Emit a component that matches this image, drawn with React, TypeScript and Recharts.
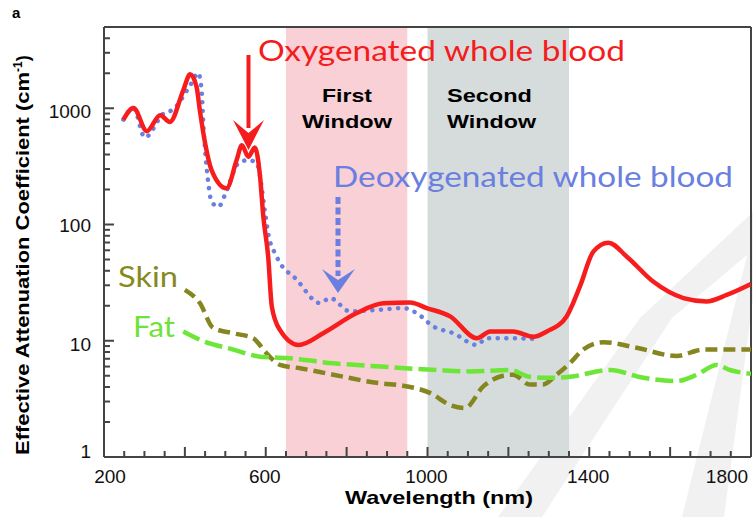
import React from "react";
import { LineChart, Line, XAxis, YAxis, ReferenceArea, ReferenceLine } from "recharts";

// wavelength (nm) / effective attenuation coefficient (cm^-1)
const oxyNm = [248, 273, 306, 339, 363, 396, 413, 429, 437, 450, 466, 503, 528, 541, 557, 573, 586, 594, 606, 615, 635, 681, 742, 825, 891, 957, 998, 1056, 1122, 1155, 1212, 1262, 1295, 1344, 1377, 1410, 1447, 1493, 1558, 1633, 1690, 1740, 1800];
const oxyVal = [800, 1006, 635, 871, 763, 1428, 1959, 1524, 961, 501, 294, 205, 358, 481, 382, 460, 257, 117, 53, 19.7, 12.4, 9.2, 11.6, 17.3, 21, 21.3, 19.1, 16.2, 10.5, 12.0, 12.0, 10.8, 12.0, 16.2, 29.3, 58.4, 69.8, 52.9, 32.3, 23.3, 21.8, 24.8, 30.8];

const deoxyNm = [248, 273, 301, 347, 371, 413, 433, 442, 446, 450, 458, 466, 483, 499, 532, 557, 578, 598, 606, 627, 677, 734, 759, 808, 883, 940, 973, 1014, 1064, 1122, 1146, 1221, 1278];
const deoxyVal = [800, 1000, 560, 901, 975, 1575, 2010, 1337, 691, 436, 226, 157, 142, 179, 335, 358, 335, 129, 84, 53, 33.4, 21.1, 23.3, 17.9, 18.5, 19.1, 17.3, 13.3, 11.6, 9.2, 10.5, 10.5, 10.3];

const skinNm = [400, 437, 470, 520, 569, 602, 635, 685, 767, 883, 940, 1006, 1056, 1093, 1138, 1187, 1212, 1253, 1286, 1319, 1352, 1385, 1435, 1517, 1616, 1682, 1800];
const skinVal = [27.4, 21.1, 12.9, 11.6, 10.5, 7.8, 6.2, 5.8, 5.1, 4.3, 4.1, 3.56, 2.8, 2.64, 4.05, 5.0, 5.1, 4.2, 4.2, 5.1, 6.4, 8.4, 9.7, 8.7, 7.4, 8.4, 8.4];

const fatNm = [396, 437, 520, 586, 652, 767, 883, 1023, 1105, 1204, 1253, 1303, 1352, 1451, 1534, 1616, 1666, 1715, 1748, 1800];
const fatVal = [12.0, 10.2, 8.4, 7.3, 7.1, 6.4, 6.0, 5.6, 5.45, 5.6, 4.9, 4.8, 4.9, 5.6, 4.8, 4.5, 5.1, 6.2, 5.6, 5.2];

const firstWindow = [650, 950];
const secondWindow = [1000, 1350];

const xTicks = [200, 250, 300, 350, 400, 450, 500, 550, 600, 650, 700, 750, 800, 850, 900, 950, 1000, 1050, 1100, 1150, 1200, 1250, 1300, 1350, 1400, 1450, 1500, 1550, 1600, 1650, 1700, 1750, 1800];
const xLabels = [200, 600, 1000, 1400, 1800];
const yTicks = [1, 2, 3, 4, 5, 6, 7, 8, 9, 10, 20, 30, 40, 50, 60, 70, 80, 90, 100, 200, 300, 400, 500, 600, 700, 800, 900, 1000, 2000, 3000, 4000, 5000];
const yLabels = [1, 10, 100, 1000];

const toPoints = (nm: number[], val: number[]) => nm.map((n, i) => ({ nm: n, v: val[i] }));

const AXIS = "#444";
const TICK_FONT = "'Liberation Sans', Arial, sans-serif";
const NOTE_FONT = "Lato, 'Open Sans', sans-serif";

function XTick({ x, y, payload }: any) {
  const v = payload.value;
  const len = v % 200 === 0 ? 10 : 6;
  const shift = v === 200 ? 6 : v === 1800 ? -24 : -1;
  return (
    <g>
      <line x1={x} x2={x} y1={y} y2={y - len} stroke={AXIS} strokeWidth={2} />
      {xLabels.includes(v) && (
        <text x={x + shift} y={y + 26} textAnchor="middle" fontSize={19} fontFamily={TICK_FONT} fill="#111">
          {v}
        </text>
      )}
    </g>
  );
}

function YTick({ x, y, payload }: any) {
  const v = payload.value;
  const major = yLabels.includes(v);
  const dy = v === 1 ? 1 : v === 100 ? 7 : 10;
  return (
    <g>
      <line x1={x} x2={x + (major ? 10 : 6)} y1={y} y2={y} stroke={AXIS} strokeWidth={2} />
      {major && (
        <text x={x - 13} y={y + dy} textAnchor="end" fontSize={19} fontFamily={TICK_FONT} fill="#111">
          {v}
        </text>
      )}
    </g>
  );
}

// faint watermark behind the plot
function Watermark() {
  return (
    <svg width={753} height={517} style={{ position: "absolute", left: 0, top: 0 }}>
      <polygon points="498,517 542,517 672,318 640,318" fill="#f1f1f1" />
      <polygon points="640,318 672,318 753,250 753,212" fill="#f1f1f1" />
      <polygon points="682,517 724,517 753,300 753,232" fill="#f1f1f1" />
    </svg>
  );
}

function Notes() {
  return (
    <svg width={753} height={517} style={{ position: "absolute", left: 0, top: 0, pointerEvents: "none" }}>
      <text x={12} y={18} fontSize={15} fontWeight="bold" fontFamily={TICK_FONT}>a</text>

      <text x={258} y={61} fontSize={28} fontFamily={NOTE_FONT} fill="#f41c1c" textLength={367} lengthAdjust="spacingAndGlyphs">
        Oxygenated whole blood
      </text>
      <line x1={248.5} x2={248.5} y1={55} y2={128} stroke="#f41c1c" strokeWidth={4} />
      <polygon points="233,120 248.5,150 264,120 248.5,133" fill="#f41c1c" />

      <text x={322} y={102} fontSize={19} fontWeight="bold" fontFamily={TICK_FONT} textLength={50} lengthAdjust="spacingAndGlyphs">First</text>
      <text x={302} y={128} fontSize={19} fontWeight="bold" fontFamily={TICK_FONT} textLength={90} lengthAdjust="spacingAndGlyphs">Window</text>
      <text x={447} y={102} fontSize={19} fontWeight="bold" fontFamily={TICK_FONT} textLength={85} lengthAdjust="spacingAndGlyphs">Second</text>
      <text x={447} y={128} fontSize={19} fontWeight="bold" fontFamily={TICK_FONT} textLength={89} lengthAdjust="spacingAndGlyphs">Window</text>

      <text x={333} y={187} fontSize={28} fontFamily={NOTE_FONT} fill="#6a7fe0" textLength={400} lengthAdjust="spacingAndGlyphs">
        Deoxygenated whole blood
      </text>
      <line x1={338} x2={338} y1={197} y2={276} stroke="#6a7fe0" strokeWidth={5} strokeDasharray="7 3.5" />
      <polygon points="322,269 338,293 355,269 338,280" fill="#6a7fe0" />

      <text x={118} y={287} fontSize={28} fontFamily={NOTE_FONT} fill="#868a1e" textLength={60} lengthAdjust="spacingAndGlyphs">Skin</text>
      <text x={133} y={337} fontSize={28} fontFamily={NOTE_FONT} fill="#6fe23a" textLength={42} lengthAdjust="spacingAndGlyphs">Fat</text>

      <text x={345} y={504} fontSize={19} fontWeight="bold" fontFamily={TICK_FONT} textLength={188} lengthAdjust="spacingAndGlyphs">
        Wavelength (nm)
      </text>
      <text transform="translate(29,455) rotate(-90)" x={0} y={0} fontSize={18} fontWeight="bold" fontFamily={TICK_FONT}>
        <tspan textLength={383} lengthAdjust="spacingAndGlyphs">Effective Attenuation Coefficient (cm</tspan>
        <tspan dy={-7} fontSize={12}>-1</tspan>
        <tspan dy={7}>)</tspan>
      </text>
    </svg>
  );
}

export default function App() {
  return (
    <div style={{ position: "relative", width: 753, height: 517, background: "#fff" }}>
      <style>{"body{margin:0}"}</style>
      <Watermark />
      <div style={{ position: "absolute", left: 0, top: 0 }}>
        <LineChart width={753} height={517} margin={{ top: 27, right: 2, left: 0, bottom: 0 }}>
          <XAxis
            type="number"
            dataKey="nm"
            domain={[200, 1800]}
            ticks={xTicks}
            interval={0}
            tickSize={0}
            tickMargin={0}
            tick={<XTick />}
            height={60}
            allowDataOverflow
            axisLine={{ stroke: AXIS, strokeWidth: 2 }}
          />
          <YAxis
            type="number"
            scale="log"
            domain={[1, 5000]}
            ticks={yTicks}
            interval={0}
            tickSize={0}
            tickMargin={0}
            tick={<YTick />}
            width={104}
            allowDataOverflow
            axisLine={{ stroke: AXIS, strokeWidth: 2 }}
          />
          <ReferenceArea x1={firstWindow[0]} x2={firstWindow[1]} fill="#f8d0d5" fillOpacity={1} stroke="none" />
          <ReferenceArea x1={secondWindow[0]} x2={secondWindow[1]} fill="#d6dcdc" fillOpacity={1} stroke="none" />
          <ReferenceLine y={5000} stroke={AXIS} strokeWidth={2} />
          <ReferenceLine x={1800} stroke={AXIS} strokeWidth={2} />
          <Line
            data={toPoints(skinNm, skinVal)}
            dataKey="v"
            type="monotone"
            stroke="#85861f"
            strokeWidth={4.5}
            strokeDasharray="12 6"
            dot={false}
            activeDot={false}
            isAnimationActive={false}
          />
          <Line
            data={toPoints(fatNm, fatVal)}
            dataKey="v"
            type="monotone"
            stroke="#6ee637"
            strokeWidth={4.5}
            strokeDasharray="18 6"
            dot={false}
            activeDot={false}
            isAnimationActive={false}
          />
          <Line
            data={toPoints(deoxyNm, deoxyVal)}
            dataKey="v"
            type="monotone"
            stroke="#6a7fe0"
            strokeWidth={4.5}
            strokeDasharray="0.1 8.5"
            strokeLinecap="round"
            dot={false}
            activeDot={false}
            isAnimationActive={false}
          />
          <Line
            data={toPoints(oxyNm, oxyVal)}
            dataKey="v"
            type="monotone"
            stroke="#f81d1d"
            strokeWidth={4.5}
            strokeLinejoin="round"
            dot={false}
            activeDot={false}
            isAnimationActive={false}
          />
        </LineChart>
      </div>
      <Notes />
    </div>
  );
}
